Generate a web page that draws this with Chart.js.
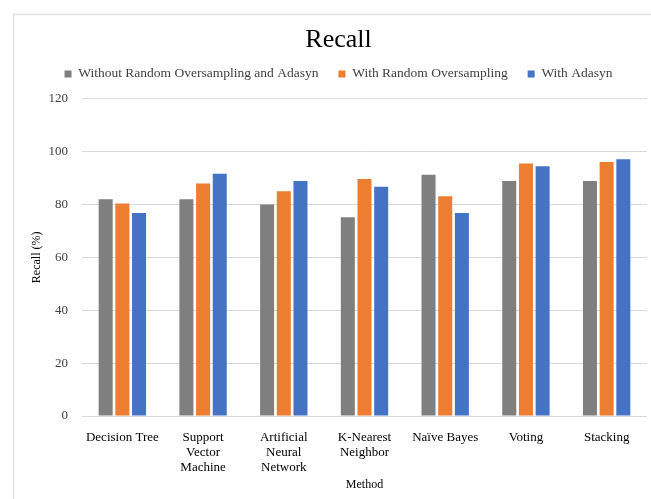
<!DOCTYPE html>
<html>
<head>
<meta charset="utf-8">
<script src="https://cdn.jsdelivr.net/npm/chart.js@4/dist/chart.umd.min.js"></script>
<style>
  html, body { margin: 0; padding: 0; background: #ffffff; }
  #wrap { position: relative; width: 651px; height: 499px; }
</style>
</head>
<body>
<div id="wrap"><canvas id="chart" width="651" height="499"></canvas></div>
<script>
// Recall (%) per classification method, for three sampling strategies
const methods = [
  "Decision Tree",
  ["Support", "Vector", "Machine"],
  ["Artificial", "Neural", "Network"],
  ["K-Nearest", "Neighbor"],
  "Naïve Bayes",
  "Voting",
  "Stacking"
];
const seriesNames = [
  "Without Random Oversampling and Adasyn",
  "With Random Oversampling",
  "With Adasyn"
];
const recallBaseline = [82.0, 82.0, 80.0, 75.2, 91.2, 88.9, 88.9];
const recallOversampling = [80.4, 87.9, 85.0, 89.6, 83.1, 95.5, 96.1];
const recallAdasyn = [76.8, 91.6, 88.9, 86.7, 76.8, 94.5, 97.1];
const yTicks = [0, 20, 40, 60, 80, 100, 120];

const serif = "'Liberation Serif', 'Times New Roman', serif";

// thin frame along the top and left edge of the figure
const framePlugin = {
  id: 'frame',
  beforeDraw(chart) {
    const ctx = chart.ctx;
    ctx.save();
    ctx.strokeStyle = '#e3e3e3';
    ctx.lineWidth = 1.5;
    ctx.beginPath();
    ctx.moveTo(13.5, 499);
    ctx.lineTo(13.5, 14.5);
    ctx.lineTo(651, 14.5);
    ctx.stroke();
    ctx.restore();
  }
};

// leave extra room between the legend row and the plot area
const legendGapPlugin = {
  id: 'legendGap',
  beforeLayout(chart) {
    const legend = chart.legend;
    if (legend && !legend._gapPatched) {
      const fit = legend.fit;
      legend.fit = function () {
        fit.call(this);
        this.height += 8;
      };
      legend._gapPatched = true;
    }
  }
};

new Chart(document.getElementById('chart'), {
  type: 'bar',
  data: {
    labels: methods,
    datasets: [
      { label: seriesNames[0], data: recallBaseline, backgroundColor: '#7f7f7f' },
      { label: seriesNames[1], data: recallOversampling, backgroundColor: '#ed7d31' },
      { label: seriesNames[2], data: recallAdasyn, backgroundColor: '#4472c4' }
    ]
  },
  options: {
    responsive: false,
    animation: false,
    devicePixelRatio: 1,
    layout: { padding: { top: 14, right: 4, left: 30, bottom: 0 } },
    datasets: { bar: { categoryPercentage: 0.62, barPercentage: 0.84 } },
    plugins: {
      title: {
        display: true,
        text: 'Recall',
        color: '#000000',
        font: { family: serif, size: 26, weight: 'normal' },
        padding: { top: 11, bottom: -9 }
      },
      legend: {
        display: true,
        labels: {
          color: '#404040',
          font: { family: serif, size: 13.5 },
          boxWidth: 7,
          boxHeight: 7,
          padding: 20
        }
      },
      tooltip: { enabled: false }
    },
    scales: {
      x: {
        grid: { display: false, drawTicks: false },
        border: { display: false },
        ticks: {
          color: '#000000',
          font: { family: serif, size: 13, lineHeight: 1.15 },
          maxRotation: 0,
          autoSkip: false,
          padding: 14
        },
        title: {
          display: true,
          text: 'Method',
          color: '#000000',
          font: { family: serif, size: 12 },
          padding: { top: 4, bottom: 7 }
        },
        afterFit(scale) { scale.height = 83; }
      },
      y: {
        min: 0,
        max: 120,
        afterBuildTicks(scale) { scale.ticks = yTicks.map(v => ({ value: v })); },
        grid: { color: '#d9d9d9', lineWidth: 1, drawTicks: false },
        border: { display: false },
        ticks: {
          color: '#404040',
          font: { family: serif, size: 13 },
          padding: 14
        },
        title: {
          display: true,
          text: 'Recall (%)',
          color: '#000000',
          font: { family: serif, size: 12 },
          padding: { top: 0, bottom: 8 }
        },
        afterFit(scale) { scale.width = 52; }
      }
    }
  },
  plugins: [framePlugin, legendGapPlugin]
});
</script>
</body>
</html>
